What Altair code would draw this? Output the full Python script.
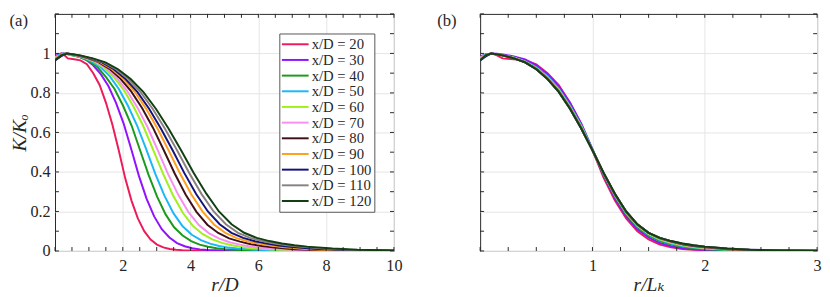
import altair as alt
import pandas as pd

FONT = "Liberation Serif, DejaVu Serif"
INK = "#262626"

LABELS = ["x/D = 20", "x/D = 30", "x/D = 40", "x/D = 50", "x/D = 60", "x/D = 70",
          "x/D = 80", "x/D = 90", "x/D = 100", "x/D = 110", "x/D = 120"]
COLORS = ["#ec1c5b", "#9012fe", "#1a9a1a", "#1ab8f5", "#a0f01a", "#f78ef0",
          "#40101a", "#ff9f1c", "#12127a", "#8a8080", "#123f12"]
# half-width scale L_k (in r/D) of each profile
LK = [1.88, 2.25, 2.51, 2.69, 2.90, 3.03, 3.21, 3.35, 3.47, 3.60, 3.72]

# normalised radius r/L_k
S = [0, 0.05, 0.1, 0.15, 0.2, 0.3, 0.4, 0.5, 0.6, 0.7, 0.8, 0.9, 1.0, 1.1, 1.2, 1.3,
     1.4, 1.5, 1.6, 1.7, 1.8, 1.9, 2.0, 2.2, 2.4, 2.7, 3.0, 5.4]

K20 = [.98, .995, 1.0, .99, .975, .97, .965, .945, .9, .84, .75, .64, .51, .37, .255, .165,
       .1, .058, .032, .018, .01, .006, .004, .002, .001, 0, 0, 0]
K30 = [.985, .995, 1.0, .998, .995, .985, .97, .94, .895, .835, .75, .645, .515, .38, .265, .175,
       .11, .068, .04, .024, .014, .008, .005, .002, .001, 0, 0, 0]
K40 = [.975, .99, 1.0, .995, .99, .98, .96, .93, .88, .82, .735, .635, .51, .385, .275, .185,
       .12, .078, .05, .032, .021, .014, .009, .004, .002, .001, 0, 0]
K50 = [.98, .995, 1.0, .995, .99, .98, .96, .93, .885, .82, .735, .635, .515, .39, .28, .19,
       .125, .082, .055, .037, .025, .017, .012, .006, .003, .001, 0, 0]
K60 = [.975, .99, 1.0, .995, .99, .978, .958, .926, .878, .815, .73, .63, .51, .39, .282, .193,
       .128, .086, .059, .041, .029, .02, .014, .007, .004, .001, 0, 0]
K70 = [.98, .99, 1.0, .995, .99, .977, .957, .925, .876, .812, .728, .628, .51, .39, .284, .196,
       .131, .089, .062, .044, .032, .023, .016, .008, .004, .002, .001, 0]
K80 = [.97, .99, 1.0, .995, .99, .976, .956, .922, .873, .808, .724, .624, .51, .392, .286, .198,
       .133, .091, .064, .047, .034, .025, .018, .009, .005, .002, .001, 0]
K90 = [.975, .99, 1.0, .995, .99, .976, .955, .921, .872, .807, .722, .622, .51, .393, .287, .199,
       .134, .092, .065, .048, .036, .027, .02, .01, .005, .002, .001, 0]
K100 = [.965, .985, 1.0, .995, .99, .975, .955, .92, .87, .805, .72, .62, .51, .394, .288, .2,
        .135, .092, .066, .049, .037, .028, .021, .011, .006, .002, .001, 0]
K110 = [.97, .99, 1.0, .995, .99, .975, .955, .92, .87, .805, .72, .62, .51, .395, .289, .2,
        .135, .092, .066, .05, .038, .029, .022, .012, .006, .002, .001, 0]
K120 = [.965, .99, 1.0, .995, .99, .975, .955, .92, .87, .805, .72, .62, .51, .395, .29, .2,
        .135, .092, .066, .05, .038, .029, .022, .012, .006, .002, .001, 0]
KS = [K20, K30, K40, K50, K60, K70, K80, K90, K100, K110, K120]

# tick positions
XT_A = [0, 0.5, 1, 1.5, 2, 2.5, 3, 3.5, 4, 4.5, 5, 5.5, 6, 6.5, 7, 7.5, 8, 8.5, 9, 9.5, 10]
XT_B = [0, 0.25, 0.5, 0.75, 1, 1.25, 1.5, 1.75, 2, 2.25, 2.5, 2.75, 3]
YT = [0, 0.1, 0.2, 0.3, 0.4, 0.5, 0.6, 0.7, 0.8, 0.9, 1.0, 1.1, 1.2]
YMAJ = [0, 0.2, 0.4, 0.6, 0.8, 1]
XMAJ_A = [2, 4, 6, 8, 10]
XMAJ_B = [1, 2, 3]

rows = []
for lab, lk, ks in zip(LABELS, LK, KS):
    for s, k in zip(S, ks):
        rows.append({"label": lab, "s": s, "r": s * lk, "K": k})
df = pd.DataFrame(rows)

W_A, W_B, H = 346, 344, 242
TL = 4

ys = alt.Scale(domain=[0, 1.2], nice=False)
xs_a = alt.Scale(domain=[0, 10], nice=False, zero=False)
xs_b = alt.Scale(domain=[0, 3], nice=False, zero=False)
cscale = alt.Scale(domain=LABELS, range=COLORS)

axis_common = dict(labelFont=FONT, labelFontSize=16.5, labelColor=INK, titleFont=FONT,
                   titleFontSize=20, titleFontStyle="italic", titleFontWeight="normal",
                   titleColor=INK, domain=False, ticks=False, grid=True,
                   gridColor="#e4e4e4", gridWidth=1, labelFlush=False)

xax_a = alt.Axis(values=XMAJ_A, title="r/D", labelPadding=7, titlePadding=1, **axis_common)
yax_a = alt.Axis(values=YMAJ, format="~g", title="K/Kₒ", labelPadding=5, titlePadding=1,
                 **axis_common)
xax_b = alt.Axis(values=XMAJ_B, title="r/Lₖ", labelPadding=7, titlePadding=1, **axis_common)
yax_b = alt.Axis(values=YMAJ, labels=False, title=None, **axis_common)


def ticks(xvals, xscale, xaxis, yaxis, W):
    dx = pd.DataFrame({"v": xvals})
    dy = pd.DataFrame({"w": YT})
    rule = dict(color=INK, strokeWidth=1)
    bx = alt.Chart(dx).mark_rule(**rule).encode(
        x=alt.X("v:Q", scale=xscale, axis=xaxis), y=alt.value(H), y2=alt.value(H - TL))
    tx = alt.Chart(dx).mark_rule(**rule).encode(
        x=alt.X("v:Q", scale=xscale, axis=xaxis), y=alt.value(0), y2=alt.value(TL))
    ly = alt.Chart(dy).mark_rule(**rule).encode(
        y=alt.Y("w:Q", scale=ys, axis=yaxis), x=alt.value(0), x2=alt.value(TL))
    ry = alt.Chart(dy).mark_rule(**rule).encode(
        y=alt.Y("w:Q", scale=ys, axis=yaxis), x=alt.value(W - TL), x2=alt.value(W))
    return [bx, tx, ly, ry]


lines_a = alt.Chart(df).mark_line(strokeWidth=2, clip=True).encode(
    x=alt.X("r:Q", scale=xs_a, axis=xax_a),
    y=alt.Y("K:Q", scale=ys, axis=yax_a),
    color=alt.Color("label:N", scale=cscale, sort=LABELS,
                    legend=alt.Legend(title=None, orient="none", legendX=229, legendY=20,
                                      symbolType="M-1.2,0H2.7", symbolSize=196,
                                      symbolStrokeWidth=2, labelFont=FONT,
                                      labelFontSize=15, labelColor=INK,
                                      strokeColor="#555555", fillColor="white",
                                      padding=3, rowPadding=0, labelOffset=14)),
)
tag_a = alt.Chart(pd.DataFrame({"t": ["(a)"]})).mark_text(
    font=FONT, fontSize=17, color=INK, align="center", baseline="top").encode(
    text="t:N", x=alt.value(-37), y=alt.value(-1))

left = alt.layer(lines_a, *ticks(XT_A, xs_a, xax_a, yax_a, W_A), tag_a).properties(
    width=W_A, height=H)

lines_b = alt.Chart(df).mark_line(strokeWidth=2, clip=True).encode(
    x=alt.X("s:Q", scale=xs_b, axis=xax_b),
    y=alt.Y("K:Q", scale=ys, axis=yax_b),
    color=alt.Color("label:N", scale=cscale, sort=LABELS, legend=None),
)
tag_b = alt.Chart(pd.DataFrame({"t": ["(b)"]})).mark_text(
    font=FONT, fontSize=17, color=INK, align="center", baseline="top").encode(
    text="t:N", x=alt.value(-34), y=alt.value(-1))

right = alt.layer(lines_b, *ticks(XT_B, xs_b, xax_b, yax_b, W_B), tag_b).properties(
    width=W_B, height=H)

chart = alt.hconcat(left, right, spacing=34).resolve_scale(
    color="independent").resolve_legend(color="independent").configure(
    padding=0, background="white").configure_view(stroke=INK, strokeWidth=1)

chart.save("out.html", embed_options={"renderer": "svg", "actions": False})
